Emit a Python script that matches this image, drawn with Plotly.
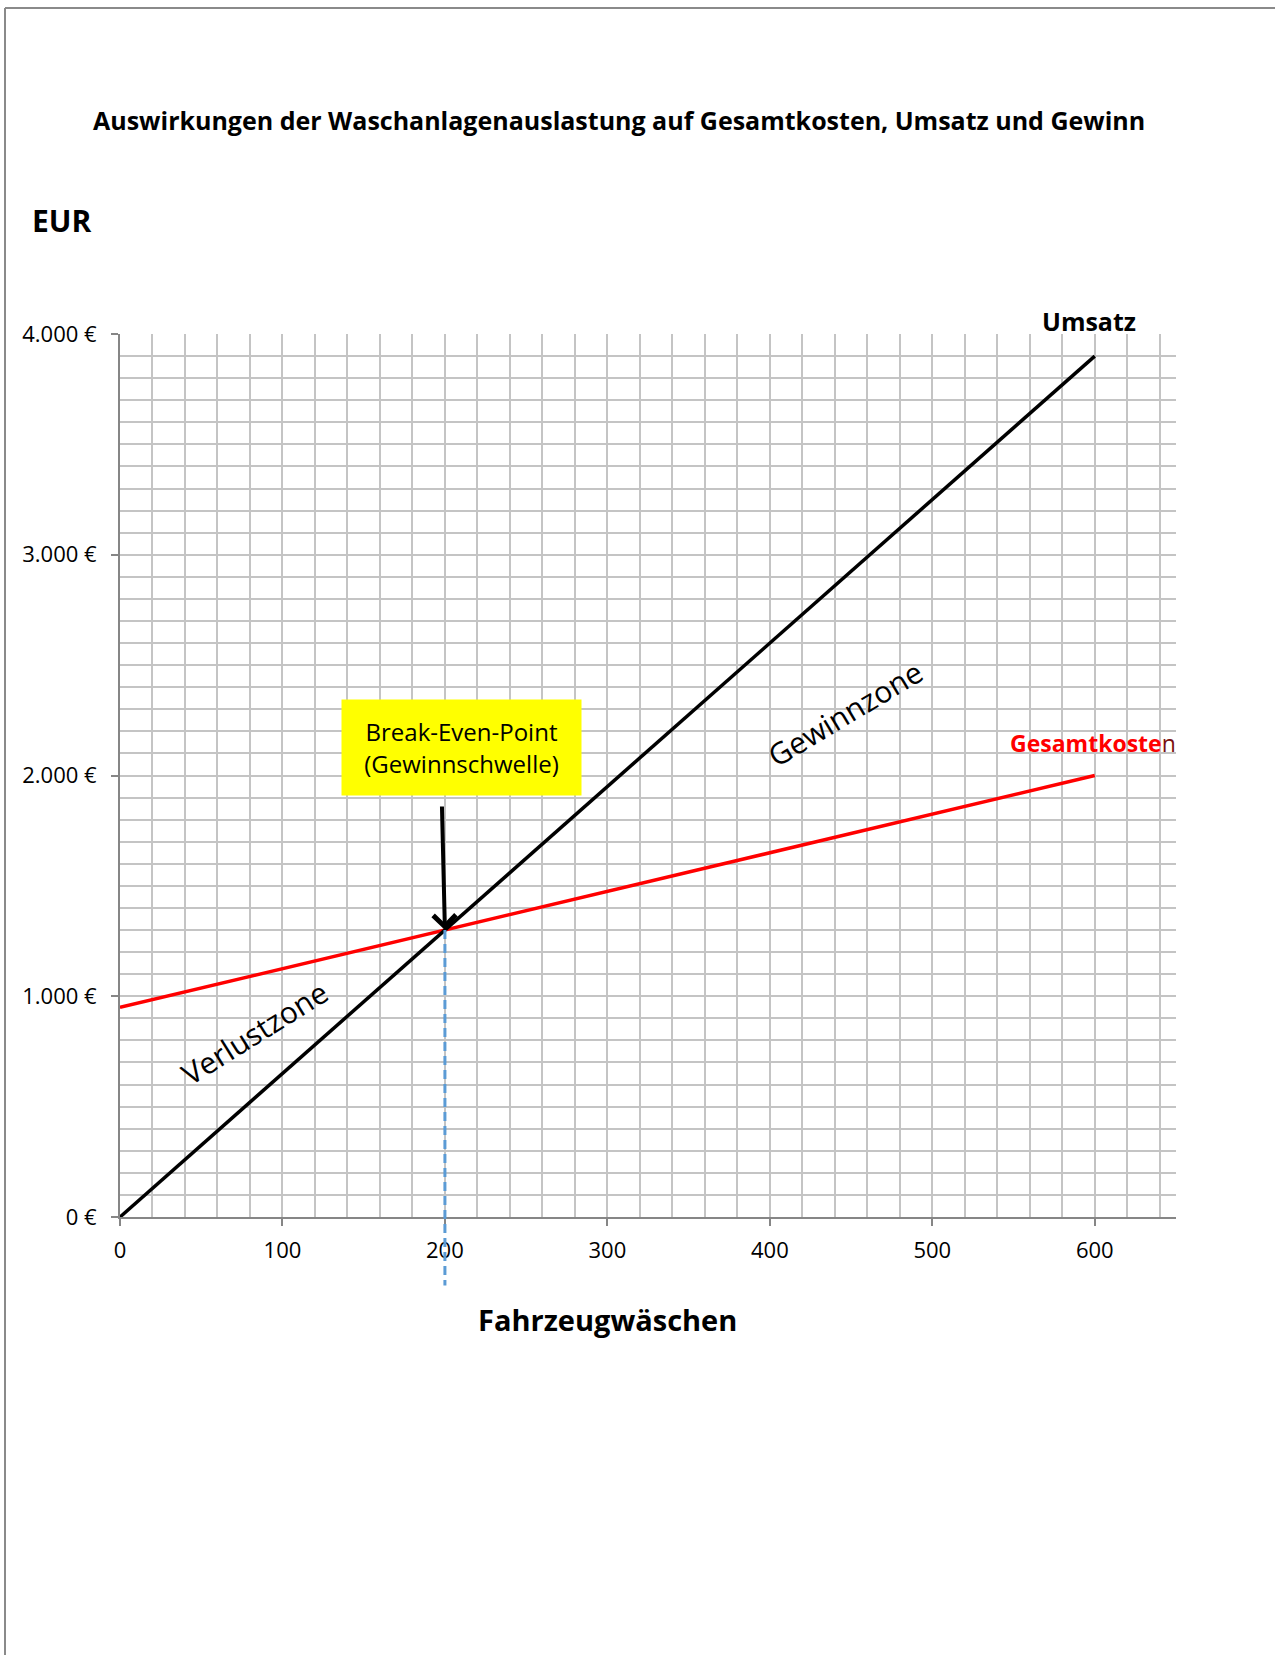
import plotly.graph_objects as go

# Data
waeschen = [0, 100, 200, 300, 400, 500, 600]
umsatz = [0, 650, 1300, 1950, 2600, 3250, 3900]
gesamtkosten = [950, 1125, 1300, 1475, 1650, 1825, 2000]
bep_x = 200
bep_y = 1300
bep_line_bottom = -310
y_max = 4000
x_max = 650
y_tickvals = [0, 1000, 2000, 3000, 4000]
y_ticktext = ["0 €", "1.000 €", "2.000 €", "3.000 €", "4.000 €"]
x_tickvals = [0, 100, 200, 300, 400, 500, 600]

FONT = "Open Sans"
GRID = "#c4c4c4"

fig = go.Figure()

fig.add_trace(go.Scatter(x=waeschen, y=gesamtkosten, mode="lines", name="Gesamtkosten",
                         line=dict(color="#ff0000", width=3.5), showlegend=False))
fig.add_trace(go.Scatter(x=waeschen, y=umsatz, mode="lines", name="Umsatz",
                         line=dict(color="#000000", width=3.5), showlegend=False))

annotations = [
    dict(text="<b>Auswirkungen der Waschanlagenauslastung auf Gesamtkosten, Umsatz und Gewinn</b>",
         xref="paper", yref="paper", x=0.4725, y=1.2424, showarrow=False,
         xanchor="center", yanchor="middle", font=dict(size=25, color="black", family=FONT)),
    dict(text="<b>EUR</b>", xref="paper", yref="paper", x=-0.0852, y=1.129, showarrow=False,
         xanchor="left", yanchor="middle", font=dict(size=30, color="black", family=FONT)),
    dict(text="<b>Fahrzeugwäschen</b>", xref="paper", yref="paper", x=0.4612, y=-0.1166,
         showarrow=False, xanchor="center", yanchor="middle",
         font=dict(size=29, color="black", family=FONT)),
    dict(text="<b>Umsatz</b>", x=waeschen[-1], y=umsatz[-1], xshift=-6, yshift=35,
         showarrow=False, xanchor="center", yanchor="middle",
         font=dict(size=25, color="black", family=FONT)),
    dict(text="<b>Gesamtkoste</b><span style='color:#7a1010'>n</span>", x=waeschen[-1],
         y=gesamtkosten[-1], xshift=-2, yshift=33, showarrow=False, xanchor="center",
         yanchor="middle", font=dict(size=23, color="#ff0000", family=FONT)),
    dict(text="Gewinnzone", x=446, y=2283, showarrow=False, textangle=-31,
         font=dict(size=30, color="black", family=FONT)),
    dict(text="Verlustzone", x=83, y=834, showarrow=False, textangle=-32,
         font=dict(size=30, color="black", family=FONT)),
    dict(text="Break-Even-Point<br>(Gewinnschwelle)", x=210, y=2129, showarrow=False,
         bgcolor="#ffff00", width=219, height=75, borderpad=10, align="center",
         font=dict(size=24, color="black", family=FONT)),
    dict(text="", x=bep_x, y=bep_y, ax=-3, ay=-125, showarrow=True, arrowhead=4,
         arrowsize=1.1, arrowwidth=4, arrowcolor="black", standoff=0),
]

shapes = [
    # dashed break-even marker (extends below the x axis)
    dict(type="line", xref="x", yref="paper", x0=bep_x, x1=bep_x,
         y0=bep_y / y_max, y1=bep_line_bottom / y_max,
         line=dict(color="#5b9bd5", width=3, dash="9px,5px")),
    # page frame
    dict(type="line", xref="paper", yref="paper", x0=-0.1089, x1=1.1, y0=1.3692, y1=1.3692,
         line=dict(color="#8a8a8a", width=2)),
    dict(type="line", xref="paper", yref="paper", x0=-0.1089, x1=-0.1089, y0=1.3692, y1=-0.51,
         line=dict(color="#8a8a8a", width=2)),
]

fig.update_layout(
    width=1275, height=1655,
    margin=dict(l=120, r=99, t=334, b=438),
    paper_bgcolor="white", plot_bgcolor="white",
    font=dict(family=FONT, color="black"),
    annotations=annotations, shapes=shapes,
    showlegend=False,
)

fig.update_xaxes(range=[0, x_max], tickvals=x_tickvals, ticks="outside", ticklen=7,
                 tickcolor="#868686", tickwidth=1.5,
                 showgrid=True, gridcolor=GRID, gridwidth=1.5,
                 minor=dict(dtick=20, showgrid=True, gridcolor=GRID, gridwidth=1.5, ticks=""),
                 showline=True, linecolor="#868686", linewidth=2,
                 tickfont=dict(size=22, color="black", family=FONT),
                 zeroline=False, ticklabelstandoff=6)
fig.update_yaxes(range=[0, y_max], tickvals=y_tickvals, ticktext=y_ticktext, ticks="outside",
                 ticklen=7, tickcolor="#868686", tickwidth=1.5,
                 showgrid=True, gridcolor=GRID, gridwidth=1.5,
                 minor=dict(dtick=100, showgrid=True, gridcolor=GRID, gridwidth=1.5, ticks=""),
                 showline=True, linecolor="#868686", linewidth=2,
                 tickfont=dict(size=22, color="black", family=FONT),
                 zeroline=False, ticklabelstandoff=10)

fig.write_html("out.html", config={"displayModeBar": False},
               post_script="document.body.style.margin='0px';")
